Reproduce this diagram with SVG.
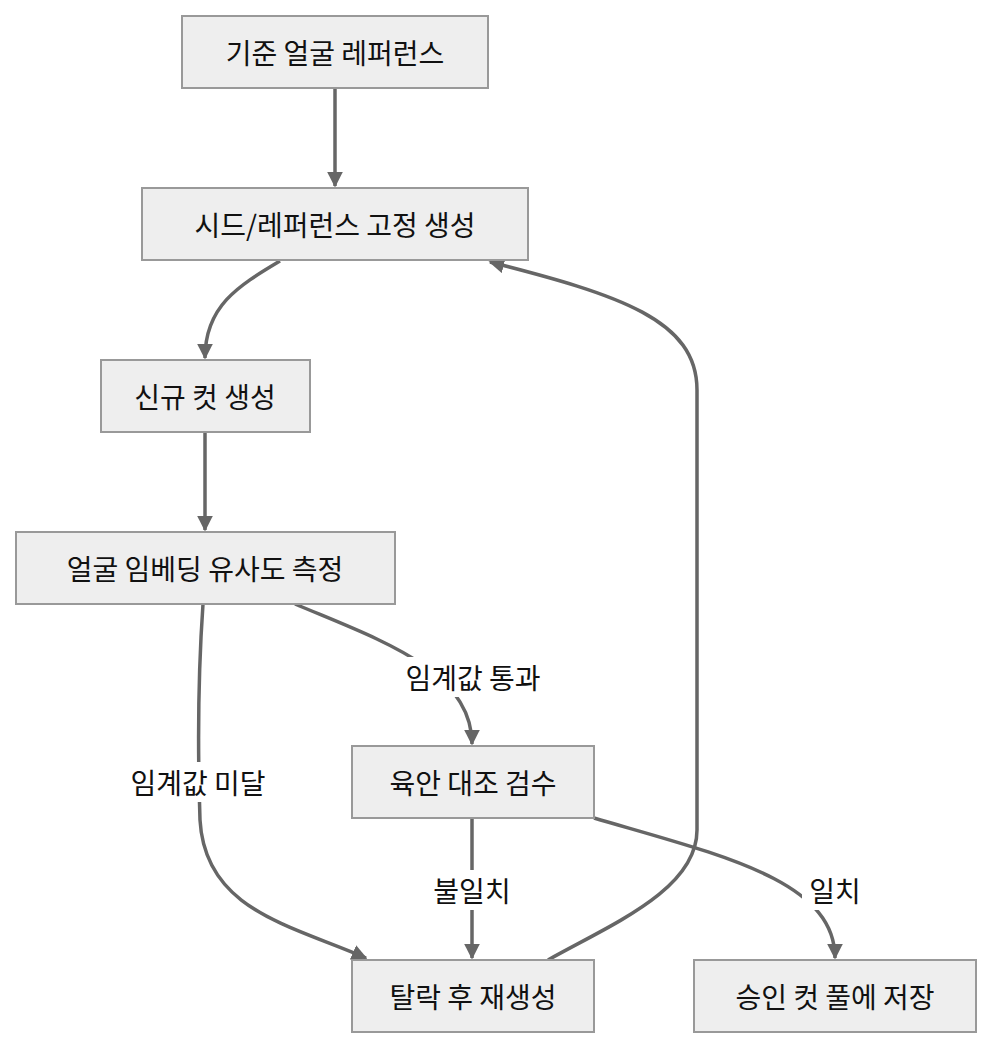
<svg xmlns="http://www.w3.org/2000/svg" width="994" height="1048" viewBox="0 0 994 1048">
<defs>
<marker id="ah" viewBox="0 0 10 10" refX="9" refY="5" markerWidth="4.5" markerHeight="4.5" orient="auto-start-reverse"><path d="M0,0 L10,5 L0,10 z" fill="#666"/></marker>
<style>
.n rect{fill:#eeeeee;stroke:#999;stroke-width:2}
text{font-family:"Noto Sans CJK KR","Noto Sans",sans-serif;font-size:28px;fill:#111;text-anchor:middle;dominant-baseline:central}
.e path{fill:none;stroke:#666;stroke-width:3.5;marker-end:url(#ah)}
.l rect{fill:#fff}
</style>
</defs>
<rect width="994" height="1048" fill="#fff"/>
<g class="e">
<path d="M335,88 L335,186"/>
<path d="M280,261 C240,285 205,305 205,358"/>
<path d="M205,432 L205,530"/>
<path d="M295,604 C380,640 472,670 472,744"/>
<path d="M203,604 C197,690 198,760 200,820 C205,910 290,925 366,958"/>
<path d="M472,818 L472,958"/>
<path d="M594,818 C720,855 835,880 835,958"/>
<path d="M548,960 C610,925 697,890 697,830 L697,390 C697,320 620,295 490,262"/>
</g>
<g class="l">
<rect x="386" y="657" width="174" height="40"/><text x="473" y="677">임계값 통과</text>
<rect x="112" y="762" width="172" height="40"/><text x="198" y="782">임계값 미달</text>
<rect x="420" y="870" width="104" height="40"/><text x="472" y="890">불일치</text>
<rect x="802" y="870" width="66" height="40"/><text x="835" y="890">일치</text>
</g>
<g id="n1" class="n"><rect x="182" y="16" width="306" height="72"/><text x="335" y="52">기준 얼굴 레퍼런스</text></g>
<g id="n2" class="n"><rect x="142" y="188" width="386" height="72"/><text x="335" y="224">시드/레퍼런스 고정 생성</text></g>
<g id="n3" class="n"><rect x="101" y="360" width="209" height="72"/><text x="205" y="396">신규 컷 생성</text></g>
<g id="n4" class="n"><rect x="16" y="532" width="379" height="72"/><text x="205" y="568">얼굴 임베딩 유사도 측정</text></g>
<g id="n5" class="n"><rect x="352" y="746" width="242" height="72"/><text x="473" y="782">육안 대조 검수</text></g>
<g id="n6" class="n"><rect x="352" y="960" width="242" height="72"/><text x="473" y="996">탈락 후 재생성</text></g>
<g id="n7" class="n"><rect x="694" y="960" width="282" height="72"/><text x="835" y="996">승인 컷 풀에 저장</text></g>
</svg>
